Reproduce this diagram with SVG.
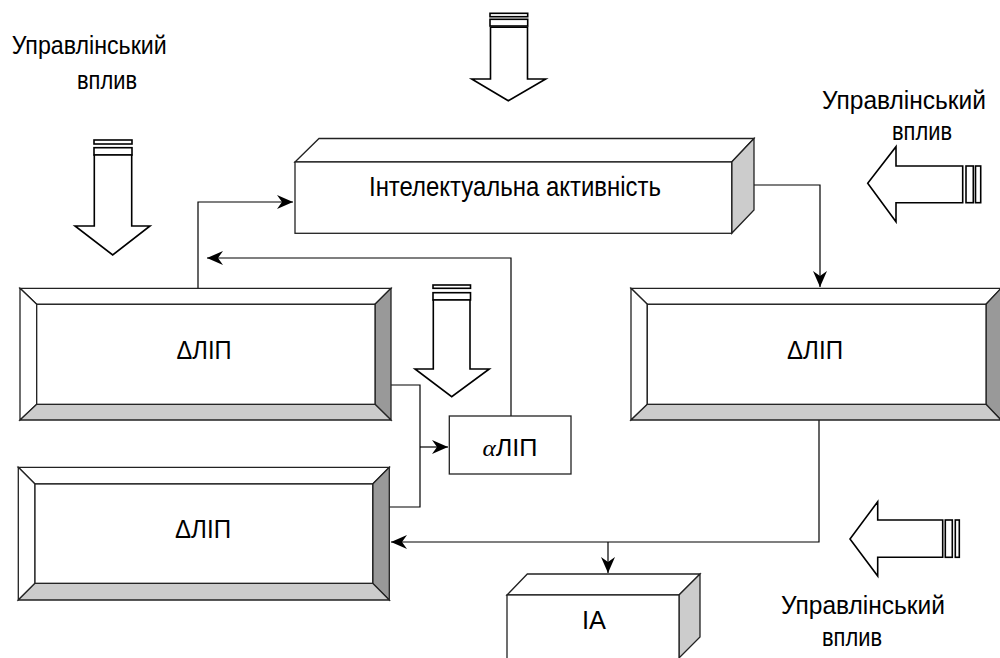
<svg xmlns="http://www.w3.org/2000/svg" width="1000" height="658" viewBox="0 0 1000 658">
<style>
.t{font-family:"Liberation Sans",Arial,sans-serif;fill:#000}
.bv{stroke:#222;stroke-width:1.3;stroke-linejoin:miter}
.w{fill:#fff}
.d{fill:#999}
.l{fill:#ccc}
.blk{fill:#fff;stroke:#000;stroke-width:1.6}
.c{fill:none;stroke:#000;stroke-width:1.2}
</style>
<defs>
<marker id="ah" markerUnits="userSpaceOnUse" markerWidth="18" markerHeight="14" refX="16" refY="7" orient="auto">
<path d="M0,0 L16,7 L0,14 L5,7 Z" fill="#000"/>
</marker>
</defs>
<rect width="1000" height="658" fill="#fff"/>

<g id="connectors">
<polyline class="c" points="198,288 198,202 293,202" marker-end="url(#ah)"/>
<polyline class="c" points="511,416 511,258 207,258" marker-end="url(#ah)"/>
<polyline class="c" points="391,385 420,385 420,507 389,507"/>
<line class="c" x1="420" y1="447" x2="448" y2="447" marker-end="url(#ah)"/>
<polyline class="c" points="754,185 820,185 820,287" marker-end="url(#ah)"/>
<polyline class="c" points="819,420 819,542 391,542" marker-end="url(#ah)"/>
<line class="c" x1="608" y1="542" x2="608" y2="573" marker-end="url(#ah)"/>
</g>

<g id="intellect">
<polygon class="bv w" points="295,162 319,138.5 754,138.5 731.7,162"/>
<polygon class="bv l" points="731.7,162 754,138.5 754,210 731.7,233.3"/>
<rect class="bv w" x="295" y="162" width="436.7" height="71.3"/>
<text class="t" x="515" y="196" font-size="28" text-anchor="middle" textLength="292" lengthAdjust="spacingAndGlyphs">Інтелектуальна активність</text>
</g>

<g id="dlip1">
<polygon class="bv w" points="20,288.3 391,288.3 375,304.3 36.7,304.3"/>
<polygon class="bv w" points="20,288.3 36.7,304.3 36.7,404.3 20,420"/>
<polygon class="bv d" points="391,288.3 391,420 375,404.3 375,304.3"/>
<polygon class="bv l" points="20,420 36.7,404.3 375,404.3 391,420"/>
<rect class="bv w" x="36.7" y="304.3" width="338.3" height="100"/>
<text class="t" x="204" y="359" font-size="26" text-anchor="middle" textLength="55" lengthAdjust="spacingAndGlyphs">ΔЛІП</text>
</g>

<g id="dlip2">
<polygon class="bv w" points="18.3,467.3 389.3,467.3 372.7,484 35,484"/>
<polygon class="bv w" points="18.3,467.3 35,484 35,583.3 18.3,600"/>
<polygon class="bv d" points="389.3,467.3 389.3,600 372.7,583.3 372.7,484"/>
<polygon class="bv l" points="18.3,600 35,583.3 372.7,583.3 389.3,600"/>
<rect class="bv w" x="35" y="484" width="337.7" height="99.3"/>
<text class="t" x="203" y="538" font-size="26" text-anchor="middle" textLength="56" lengthAdjust="spacingAndGlyphs">ΔЛІП</text>
</g>

<g id="dlip3">
<polygon class="bv w" points="631,288.3 1001,288.3 986,304.3 647.3,304.3"/>
<polygon class="bv w" points="631,288.3 647.3,304.3 647.3,404.3 631,420"/>
<polygon class="bv d" points="1001,288.3 1001,420 986,404.3 986,304.3"/>
<polygon class="bv l" points="631,420 647.3,404.3 986,404.3 1001,420"/>
<rect class="bv w" x="647.3" y="304.3" width="338.7" height="100"/>
<text class="t" x="815" y="359" font-size="26" text-anchor="middle" textLength="56" lengthAdjust="spacingAndGlyphs">ΔЛІП</text>
</g>

<g id="alip">
<rect class="bv w" x="449.3" y="416" width="121.7" height="58"/>
<text class="t" x="510" y="456" font-size="24" text-anchor="middle" textLength="55" lengthAdjust="spacingAndGlyphs"><tspan font-family="'Liberation Serif',serif" font-style="italic">α</tspan>ЛІП</text>
</g>

<g id="ia">
<polygon class="bv w" points="507,595 527.3,574 700,574 679,595"/>
<polygon class="bv l" points="679,595 700,574 700,637 679,658"/>
<rect class="bv w" x="507" y="595" width="172" height="70"/>
<text class="t" x="594" y="629" font-size="26" text-anchor="middle" textLength="24" lengthAdjust="spacingAndGlyphs">IA</text>
</g>

<g id="arrow-top">
<rect class="blk" x="490" y="13.3" width="37.7" height="3.4"/>
<rect class="blk" x="490" y="19.3" width="37.7" height="6.7"/>
<polygon class="blk" points="490.5,27.3 527.5,27.3 527.5,79 545.7,79 508.3,100.7 471.7,79 490.5,79"/>
</g>

<g id="arrow-left">
<rect class="blk" x="94" y="140" width="38" height="4"/>
<rect class="blk" x="94" y="147.7" width="38" height="7.3"/>
<polygon class="blk" points="94.3,155 131.7,155 131.7,226 150,226 112.7,255 75,226 94.3,226"/>
</g>

<g id="arrow-mid">
<rect class="blk" x="433" y="285" width="37.5" height="3.3"/>
<rect class="blk" x="433" y="292.7" width="37.5" height="7.3"/>
<polygon class="blk" points="433.3,300 470,300 470,369 489.3,369 451.7,396.7 415,369 433.3,369"/>
</g>

<g id="arrow-right-top">
<polygon class="blk" points="962.7,166 896,166 896,146.7 867.7,183.3 896,221.7 896,202.7 962.7,202.7"/>
<rect class="blk" x="966" y="166" width="7.3" height="36.7"/>
<rect class="blk" x="975.5" y="166" width="5.2" height="36.7"/>
</g>

<g id="arrow-right-bottom">
<polygon class="blk" points="942.7,520 877.7,520 877.7,501.7 850,539 877.7,576 877.7,557.3 942.7,557.3"/>
<rect class="blk" x="945.3" y="520" width="7" height="37.3"/>
<rect class="blk" x="955.3" y="520" width="4" height="37.3"/>
</g>

<g id="labels">
<text class="t" x="11.7" y="54" font-size="26" textLength="155" lengthAdjust="spacingAndGlyphs">Управлінський</text>
<text class="t" x="77" y="89" font-size="26" textLength="60" lengthAdjust="spacingAndGlyphs">вплив</text>
<text class="t" x="822" y="109" font-size="25" textLength="164" lengthAdjust="spacingAndGlyphs">Управлінський</text>
<text class="t" x="892" y="140" font-size="26" textLength="60" lengthAdjust="spacingAndGlyphs">вплив</text>
<text class="t" x="781" y="614" font-size="26" textLength="164" lengthAdjust="spacingAndGlyphs">Управлінський</text>
<text class="t" x="822" y="646" font-size="26" textLength="60" lengthAdjust="spacingAndGlyphs">вплив</text>
</g>
</svg>
